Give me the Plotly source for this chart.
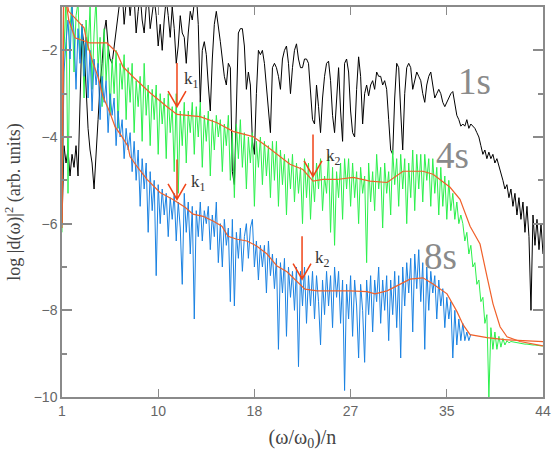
import numpy as np
import plotly.graph_objects as go

# ---------- data ----------
# noisy spectra sampled on a common grid of harmonic order / n, 1 .. 44
n_grid = 241

spec_1s = [
    -6.0, -4.2, -4.6, -4.3, -4.9, -4.4, -4.7, -4.2, -4.9, -3.2,
    -1.5, -1.9, -2.9, -3.8, -4.3, -4.6, -5.2, -4.5, -3.6, -2.8,
    -2.3, -1.6, -1.3, -1.9, -2.2, -2.3, -1.9, -1.5, -1.1, -0.8,
    -0.6, -1.4, -0.9, -0.7, -1.2, -0.7, -0.8, -1.6, -1.1, -0.7,
    -1.3, -1.6, -1.0, -0.8, -1.5, -1.2, -0.8, -1.2, -1.9, -1.4,
    -2.0, -1.3, -0.8, -1.2, -1.7, -1.0, -1.5, -2.3, -1.9, -1.2,
    -1.6, -1.7, -2.3, -1.6, -1.1, -1.3, -0.9, -0.7, -1.4, -3.2,
    -2.0, -1.8, -2.1, -2.8, -3.4, -2.2, -1.4, -1.1, -1.4, -1.8,
    -2.2, -2.6, -2.8, -2.3, -2.4, -4.8, -5.1, -3.0, -1.6, -1.5,
    -1.5, -1.9, -2.9, -2.5, -2.8, -4.1, -4.4, -3.0, -2.0, -2.1,
    -2.0, -2.3, -2.8, -3.4, -3.9, -2.4, -2.3, -2.4, -2.6, -2.9,
    -2.2, -2.0, -1.9, -2.3, -3.0, -2.4, -2.0, -1.85, -2.2, -2.4,
    -2.4, -2.2, -2.2, -2.3, -3.0, -3.6, -3.7, -2.8, -3.3, -3.9,
    -3.1, -2.6, -2.3, -2.25, -2.7, -3.5, -3.9, -3.2, -2.4, -3.4,
    -4.1, -2.3, -2.2, -2.5, -3.4, -3.9, -4.0, -2.9, -2.15, -2.6,
    -3.7, -3.0, -2.8, -3.05, -2.8, -2.7, -2.9, -2.5, -2.6, -2.6,
    -2.8, -2.7, -2.9, -3.6, -4.3, -4.4, -3.1, -2.3, -2.4, -3.4,
    -4.3, -3.0, -2.4, -2.3, -2.4, -2.9, -2.7, -2.5, -2.6, -2.7,
    -3.0, -3.2, -2.8, -2.6, -2.5, -2.8, -3.1, -3.0, -2.9, -3.0,
    -3.2, -3.3, -3.2, -3.1, -3.0, -2.95, -3.2, -3.5, -3.6, -3.75,
    -3.7, -3.75, -3.6, -3.8, -3.7, -3.75, -3.8, -3.9, -4.0, -4.2,
    -4.4, -4.3, -4.5, -4.35, -4.5, -4.4, -4.6, -4.5, -4.65, -4.8,
    -5.0, -5.2, -5.1, -5.4, -5.2, -5.6, -5.3, -5.8, -5.4, -5.9,
    -5.5, -6.2, -5.6, -6.3, -8.0, -5.8, -6.5, -5.9, -6.6, -6.0,
    -6.7,
]

spec_4s = [
    -6.2, -2.0, -0.8, -5.3, -1.5, -0.8, -2.5, -1.2, -0.9, -2.2,
    -1.4, -3.1, -1.3, -2.0, -1.0, -2.9, -1.6, -0.8, -2.4, -1.7,
    -3.3, -1.5, -2.7, -1.9, -3.5, -2.2, -3.0, -2.0, -3.8, -2.3,
    -2.9, -2.1, -3.6, -2.4, -3.2, -2.3, -3.9, -2.7, -3.3, -2.6,
    -4.1, -2.3, -3.5, -2.8, -4.2, -2.9, -3.6, -2.8, -4.4, -3.0,
    -3.7, -3.1, -4.5, -3.0, -3.9, -3.3, -4.8, -3.0, -5.3, -3.4,
    -4.2, -3.2, -4.6, -3.4, -3.9, -3.2, -4.4, -3.3, -4.0, -3.2,
    -4.7, -3.5, -4.1, -3.4, -4.9, -3.6, -4.3, -3.5, -4.0, -3.6,
    -4.8, -3.7, -4.2, -3.5, -5.0, -3.9, -5.4, -3.7, -4.5, -3.6,
    -4.7, -3.9, -5.2, -4.0, -4.6, -3.9, -5.6, -4.1, -4.7, -4.0,
    -5.1, -4.1, -4.9, -4.2, -5.4, -4.1, -5.0, -4.1, -5.6, -4.3,
    -5.1, -4.4, -5.8, -4.5, -5.2, -4.4, -5.5, -4.6, -5.3, -4.7,
    -6.0, -4.5, -5.4, -4.6, -5.9, -4.8, -5.5, -4.6, -5.2, -4.5,
    -5.7, -4.9, -5.3, -4.4, -6.2, -4.7, -6.5, -4.8, -5.4, -4.6,
    -5.9, -4.5, -5.2, -4.5, -5.6, -4.6, -5.4, -4.8, -6.0, -4.7,
    -5.3, -4.9, -6.9, -4.6, -5.5, -4.8, -5.7, -4.4, -5.2, -4.7,
    -6.1, -4.6, -5.3, -4.8, -5.8, -4.3, -5.1, -4.5, -5.6, -4.4,
    -5.2, -4.5, -6.0, -4.6, -5.4, -4.3, -5.7, -4.4, -5.2, -4.4,
    -5.5, -4.4, -5.0, -4.5, -5.6, -4.5, -5.3, -4.7, -5.8, -4.7,
    -5.6, -4.9, -5.9, -5.0, -5.7, -5.3, -5.9, -5.5, -6.0, -5.8,
    -6.0, -6.4, -6.2, -6.7, -6.5, -7.0, -6.9, -7.4, -7.3, -7.8,
    -7.7, -8.3, -8.1, -10.0, -8.4, -8.9, -8.5, -8.9, -8.6, -8.85,
    -8.65, -8.8, -8.7, -8.75, -8.72, -8.73, -8.74, -8.75, -8.76, -8.77,
    -8.77, -8.78, -8.78, -8.79, -8.79, -8.8, -8.8, -8.81, -8.81, -8.82,
    -8.82,
]

spec_8s = [
    -5.8, -2.5, -1.8, -1.3, -2.2, -1.0, -1.6, -2.9, -1.5, -2.3,
    -1.4, -2.6, -1.7, -3.1, -2.0, -3.4, -2.2, -2.8, -2.3, -3.6,
    -2.6, -3.2, -2.7, -3.9, -3.0, -3.5, -3.1, -4.2, -3.4, -4.0,
    -3.6, -4.5, -3.8, -4.3, -3.9, -4.8, -4.1, -5.0, -4.3, -5.6,
    -4.5, -5.2, -4.6, -6.2, -4.8, -5.7, -5.0, -7.2, -5.1, -6.0,
    -5.2, -5.8, -5.3, -6.3, -5.4, -5.9, -5.3, -6.4, -5.5, -6.1,
    -7.4, -5.3, -6.2, -5.5, -6.7, -5.6, -8.2, -5.7, -6.3, -5.5,
    -6.4, -5.7, -6.0, -5.6, -6.6, -5.8, -6.3, -5.5, -6.9, -6.0,
    -7.0, -5.9, -6.5, -6.1, -7.8, -5.9, -7.9, -6.2, -6.8, -6.1,
    -7.1, -6.3, -6.0, -6.8, -6.1, -5.9, -7.0, -6.4, -7.3, -6.5,
    -7.0, -6.5, -7.6, -6.4, -7.2, -6.7, -7.5, -6.8, -8.9, -6.9,
    -7.6, -6.8, -8.6, -7.0, -7.7, -7.1, -8.0, -7.0, -9.3, -7.1,
    -7.9, -7.0, -8.3, -7.2, -7.9, -7.1, -8.2, -7.2, -7.8, -8.8,
    -7.3, -8.1, -7.1, -7.9, -7.2, -8.4, -7.0, -7.7, -7.1, -8.3,
    -7.3, -9.85, -7.4, -8.2, -7.2, -8.6, -7.3, -7.9, -9.1, -7.4,
    -8.0, -9.2, -7.3, -8.1, -7.2, -8.5, -7.3, -7.8, -7.0, -8.3,
    -7.3, -8.0, -7.2, -8.7, -7.3, -8.1, -7.1, -8.4, -7.2, -9.1,
    -7.0, -7.9, -6.9, -7.6, -6.8, -8.5, -6.7, -7.5, -6.6, -7.8,
    -6.9, -8.9, -7.0, -8.0, -7.1, -7.6, -7.2, -8.2, -7.3, -7.9,
    -7.5, -8.4, -7.7, -8.2, -7.8, -9.1, -8.0, -8.8, -8.2, -8.7,
    -8.3, -8.7, -8.5, -8.7, -8.55,
]

# smoothed spectra
smooth_4s_x = [1.0, 1.15, 1.6, 2.16, 3.5, 5.02, 5.92, 6.45, 7.35, 8.87, 10.39, 11.28,
               13.34, 14.86, 16.29, 18.08, 19.33, 20.49, 21.38, 22.54, 23.44, 24.33,
               25.58, 27.02, 28.54, 30.06, 31.49, 33.27, 34.17, 35.69, 36.58, 37.48,
               38.37, 39.0, 39.53, 40.16, 40.78, 41.95, 44.0]
smooth_4s_y = [-6.1, -0.5, -1.3, -1.71, -1.83, -1.83, -2.06, -2.38, -2.61, -2.98, -3.30, -3.48,
               -3.53, -3.67, -3.87, -3.99, -4.22, -4.45, -4.63, -4.75, -5.02, -4.98,
               -4.98, -4.93, -5.02, -5.05, -4.79, -4.79, -4.86, -5.16, -5.44, -6.06,
               -6.47, -7.23, -7.85, -8.38, -8.61, -8.72, -8.82]

smooth_8s_x = [1.0, 1.15, 1.6, 2.16, 2.61, 2.97, 3.24, 3.77, 4.22, 4.67, 5.29, 5.74, 6.36,
               6.90, 7.08, 7.70, 8.60, 9.76, 10.92, 12.0, 12.71, 13.61, 14.50, 15.30,
               15.84, 16.64, 17.54, 18.43, 19.33, 20.22, 21.11, 22.01, 22.72, 23.80,
               25.23, 26.75, 28.27, 28.98, 30.06, 31.22, 32.11, 33.27, 34.17, 35.42,
               36.31, 36.85, 37.48, 39.0, 40.78, 44.0]
smooth_8s_y = [-6.0, -0.5, -1.1, -1.25, -1.37, -1.48, -1.83, -2.29, -2.61, -3.07, -3.44, -3.76, -3.99,
               -4.22, -4.45, -4.68, -4.98, -5.28, -5.44, -5.62, -5.78, -5.83, -5.94, -6.06,
               -6.29, -6.36, -6.40, -6.52, -6.70, -6.98, -7.11, -7.34, -7.51, -7.55,
               -7.55, -7.55, -7.57, -7.62, -7.55, -7.39, -7.28, -7.25, -7.39, -7.62,
               -8.03, -8.33, -8.56, -8.63, -8.68, -8.72]

# cut-off arrows (k1, k2) for 4s and 8s
arrow_x = [11.28, 11.28, 23.44, 22.46]
arrow_tail = [-2.29, -4.52, -3.94, -6.29]
arrow_tip = [-3.30, -5.44, -4.91, -7.28]
k_text = ["k<sub>1</sub>", "k<sub>1</sub>", "k<sub>2</sub>", "k<sub>2</sub>"]
k_x = [12.62, 13.16, 25.23, 24.33]
k_y = [-2.68, -5.05, -4.45, -6.82]

curve_names = ["1s", "4s", "8s"]
curve_name_x = [37.9, 35.9, 34.8]
curve_name_y = [-2.72, -4.43, -6.75]

x_tickvals = [1, 9.6, 18.2, 26.8, 35.4, 44]
x_ticktext = ["1", "10", "18", "27", "35", "44"]

# ---------- figure ----------
freq = np.linspace(1, 44, n_grid)

fig = go.Figure()
fig.add_trace(go.Scatter(x=freq[:len(spec_1s)], y=spec_1s, mode="lines",
                         line=dict(color="black", width=1), name="1s"))
fig.add_trace(go.Scatter(x=freq[:len(spec_4s)], y=spec_4s, mode="lines",
                         line=dict(color="#2cf04c", width=1), name="4s"))
fig.add_trace(go.Scatter(x=freq[:len(spec_8s)], y=spec_8s, mode="lines",
                         line=dict(color="#1a82e2", width=1), name="8s"))
fig.add_trace(go.Scatter(x=smooth_4s_x, y=smooth_4s_y, mode="lines",
                         line=dict(color="#f0602a", width=1.2), name="4s smooth"))
fig.add_trace(go.Scatter(x=smooth_8s_x, y=smooth_8s_y, mode="lines",
                         line=dict(color="#f0602a", width=1.2), name="8s smooth"))

# arrows drawn as open V heads
wing_dx, wing_dy = 0.8, 0.36
for ax_, t0, t1 in zip(arrow_x, arrow_tail, arrow_tip):
    path = (f"M {ax_},{t0} L {ax_},{t1} "
            f"M {ax_ - wing_dx},{t1 + wing_dy} L {ax_},{t1} L {ax_ + wing_dx},{t1 + wing_dy}")
    fig.add_shape(type="path", path=path, xref="x", yref="y",
                  line=dict(color="#f04418", width=1.5))

for t, x, y in zip(k_text, k_x, k_y):
    fig.add_annotation(x=x, y=y, text=t, showarrow=False,
                       font=dict(family="Liberation Serif", size=17, color="#333333"))

for t, x, y in zip(curve_names, curve_name_x, curve_name_y):
    fig.add_annotation(x=x, y=y, text=t, showarrow=False,
                       font=dict(family="Liberation Serif", size=37, color="#8a8a8a"))

axis_common = dict(showline=True, linecolor="#8a8a8a", linewidth=1.5, mirror="ticks",
                   ticks="inside", tickcolor="#8a8a8a", showgrid=False, zeroline=False,
                   automargin=False,
                   tickfont=dict(family="Liberation Sans", size=14, color="#666666"))

fig.update_xaxes(range=[1, 44], tickvals=x_tickvals, ticktext=x_ticktext,
                 ticklen=8, tickwidth=1,
                 title=dict(text="(ω/ω<sub>0</sub>)/n", standoff=12,
                            font=dict(family="Liberation Serif", size=20, color="#444444")),
                 **axis_common)
fig.update_yaxes(range=[-10, -1], tickvals=[-10, -8, -6, -4, -2],
                 ticklen=10, tickwidth=1.5,
                 minor=dict(tickvals=[-9, -7, -5, -3], ticklen=5, tickcolor="#8a8a8a",
                            ticks="inside"),
                 title=dict(text="log |d(ω)|<sup>2</sup> (arb. units)", standoff=8,
                            font=dict(family="Liberation Serif", size=18, color="#444444")),
                 **axis_common)

fig.update_layout(width=553, height=467, showlegend=False,
                  margin=dict(l=62, r=10, t=7, b=70),
                  paper_bgcolor="white", plot_bgcolor="white")

fig.write_html("out.html", config={"displayModeBar": False},
               post_script=["document.body.style.margin = '0';"])
